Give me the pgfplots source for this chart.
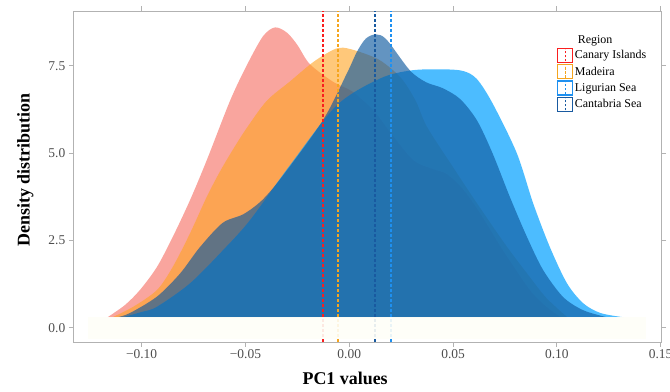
\documentclass[border=0pt]{standalone}
\usepackage{pgfplots}
\pgfplotsset{compat=1.18}
\usepackage{fontspec}
\setmainfont{Liberation Serif}
\definecolor{canfill}{RGB}{245,105,93}
\definecolor{madfill}{RGB}{255,163,33}
\definecolor{ligfill}{RGB}{0,160,255}
\definecolor{cabfill}{RGB}{15,90,160}
\definecolor{canline}{RGB}{250,30,30}
\definecolor{madline}{RGB}{245,165,30}
\definecolor{ligline}{RGB}{30,144,240}
\definecolor{cabline}{RGB}{25,90,160}
\definecolor{axisgray}{RGB}{178,178,178}
\definecolor{ticktext}{RGB}{77,77,77}
\definecolor{cream}{RGB}{254,254,247}
\pgfplotsset{
  meankey/.style={legend image code/.code={
    \draw[color=#1, solid, line width=1.2bp, fill=white] (0bp,-7bp) rectangle (15bp,7bp);
    \draw[color=#1, line width=1.5bp, dash pattern=on 2.5bp off 1.5bp] (7.5bp,-6bp) -- (7.5bp,6bp);
  }},
  meanline/.style={color=#1, line width=1.6bp, dash pattern=on 3bp off 2bp, meankey=#1},
}
\begin{document}
\begin{tikzpicture}
\begin{axis}[
  scale only axis, width=588.4bp, height=331bp,
  xmin=-0.1329, xmax=0.1505, ymin=-0.41, ymax=9.07,
  axis line style={draw=axisgray, line width=0.8bp},
  tick align=outside, major tick length=4.5bp,
  tick style={draw=axisgray, line width=0.8bp},
  xtick={-0.1,-0.05,0,0.05,0.1,0.15},
  xticklabels={−0.10,−0.05,0.00,0.05,0.10,0.15},
  ytick={0,2.5,5,7.5}, yticklabels={0.0,2.5,5.0,7.5},
  ticklabel style={font=\fontsize{13.5}{15}\selectfont, text=ticktext},
  xlabel={PC1 values}, ylabel={Density distribution},
  label style={font=\fontsize{18}{20}\selectfont\bfseries},
  x label style={at={(axis description cs:0.462,-0.109)}, anchor=center},
  y label style={at={(axis description cs:-0.0816,0.52)}, anchor=center},
  legend style={at={(axis description cs:0.817,0.936)}, anchor=north west, draw=none, fill=none,
    font=\fontsize{12}{13}\selectfont, row sep=1.1bp, nodes={inner sep=1.5bp}},
  legend cell align=left,
]
\addlegendimage{empty legend}\addlegendentry{\hspace{3bp}Region\rule[-10bp]{0pt}{10bp}}

% Canary Islands
\addplot[fill=canfill, fill opacity=0.6, draw=none, smooth, tension=0.5, forget plot] coordinates {
(-0.1164,0.3) (-0.108,0.65) (-0.1008,1.08) (-0.0926,1.74) (-0.085,2.6) (-0.0767,3.65) (-0.0686,4.8)
(-0.0574,6.5) (-0.0493,7.52) (-0.0415,8.35) (-0.0357,8.6) (-0.030,8.45) (-0.025,8.1) (-0.019,7.55)
(-0.008,7.05) (0.0018,6.75) (0.012,6.2) (0.0197,5.6) (0.0308,4.8) (0.040,4.55) (0.047,4.4)
(0.055,3.95) (0.063,3.28) (0.074,2.22) (0.087,1.08) (0.095,0.6) (0.102,0.3)} -- cycle;
% Madeira
\addplot[fill=madfill, fill opacity=0.6, draw=none, smooth, tension=0.5, forget plot] coordinates {
(-0.114,0.3) (-0.104,0.6) (-0.0926,1.08) (-0.085,1.74) (-0.0767,2.7) (-0.0686,3.75) (-0.062,4.5)
(-0.055,5.2) (-0.049,5.75) (-0.0397,6.5) (-0.0286,7.05) (-0.0175,7.6) (-0.008,7.95) (-0.003,8.02)
(0.005,7.9) (0.015,7.65) (0.025,7.15) (0.032,6.5) (0.0375,5.75) (0.05,4.6) (0.06,3.7) (0.075,2.4)
(0.087,1.45) (0.095,0.85) (0.105,0.3)} -- cycle;
% Ligurian Sea
\addplot[fill=ligfill, fill opacity=0.7, draw=none, smooth, tension=0.5, forget plot] coordinates {
(-0.109,0.3) (-0.1,0.45) (-0.0926,0.6) (-0.0767,1.27) (-0.0608,2.22) (-0.0478,3.08) (-0.0286,4.65)
(-0.006,6.37) (0.015,7.14) (0.03,7.37) (0.045,7.4) (0.055,7.35) (0.0615,7.12) (0.069,6.43)
(0.0807,5.0) (0.0886,3.56) (0.0967,2.3) (0.1049,1.27) (0.1127,0.7) (0.121,0.42) (0.132,0.3)} -- cycle;
% Cantabria Sea
\addplot[fill=cabfill, fill opacity=0.65, draw=none, smooth, tension=0.5, forget plot] coordinates {
(-0.1116,0.3) (-0.1056,0.42) (-0.0926,0.89) (-0.0815,1.55) (-0.072,2.3) (-0.061,3.0) (-0.051,3.25)
(-0.042,3.65) (-0.032,4.35) (-0.0126,5.95) (-0.001,7.3) (0.0037,7.9) (0.008,8.28) (0.0129,8.4)
(0.018,8.25) (0.0292,7.37) (0.037,7.03) (0.045,6.86) (0.0534,6.55) (0.0615,5.94) (0.069,5.0)
(0.0774,3.74) (0.0856,2.6) (0.0934,1.65) (0.103,0.88) (0.1127,0.5) (0.124,0.3)} -- cycle;

% mean lines
\addplot[meanline=canline] coordinates {(-0.0125,-0.41) (-0.0125,9.07)};
\addlegendentry{Canary Islands}
\addplot[meanline=madline] coordinates {(-0.0053,-0.41) (-0.0053,9.07)};
\addlegendentry{Madeira}
\addplot[meanline=ligline] coordinates {(0.0200,-0.41) (0.0200,9.07)};
\addlegendentry{Ligurian Sea}
\addplot[meanline=cabline] coordinates {(0.0125,-0.41) (0.0125,9.07)};
\addlegendentry{Cantabria Sea}

% baseline band
\addplot[fill=cream, fill opacity=0.9, draw=none, forget plot] coordinates {
(-0.126,-0.33) (0.143,-0.33) (0.143,0.3) (-0.126,0.3)} -- cycle;
\end{axis}
\pgfresetboundingbox
\path (-73.3bp,-50bp) rectangle (596.7bp,342bp);
\end{tikzpicture}
\end{document}
